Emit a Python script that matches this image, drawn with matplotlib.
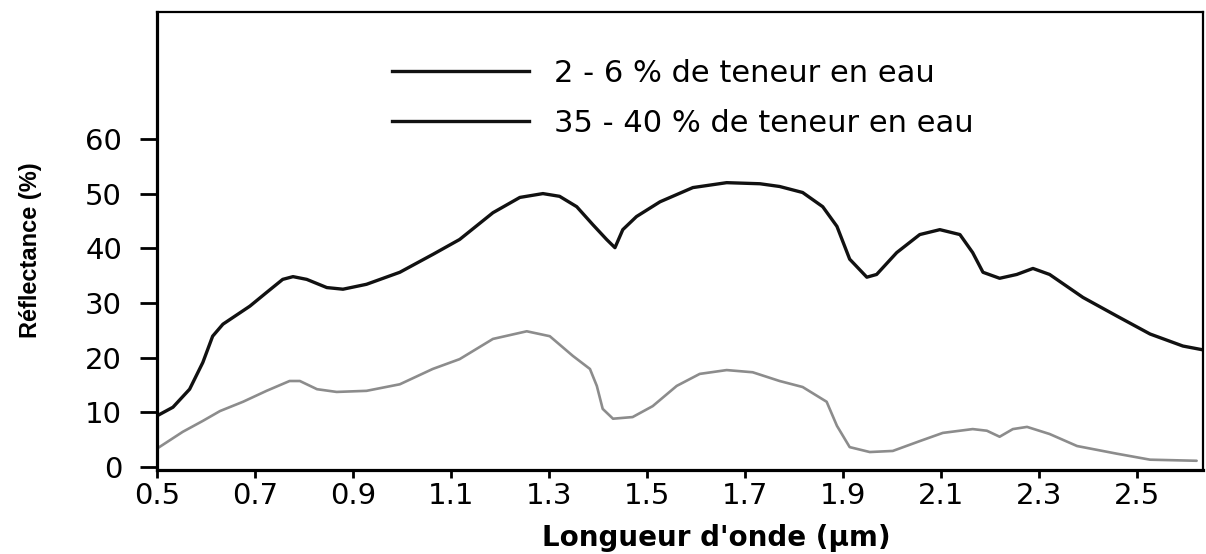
import matplotlib
matplotlib.use("Agg")
import matplotlib.pyplot as plt
from matplotlib.lines import Line2D

plt.rcParams['font.family'] = ['DejaVu Sans']

# reflectance spectra
wl_dry = [0.50, 0.533, 0.567, 0.594, 0.614, 0.635, 0.69, 0.724, 0.757, 0.778,
          0.806, 0.847, 0.88, 0.928, 0.996, 1.064, 1.118, 1.186, 1.241, 1.288,
          1.322, 1.357, 1.39, 1.418, 1.435, 1.451, 1.479, 1.527, 1.594, 1.663,
          1.731, 1.771, 1.818, 1.859, 1.888, 1.914, 1.949, 1.969, 2.01, 2.057,
          2.098, 2.139, 2.165, 2.186, 2.22, 2.255, 2.288, 2.322, 2.39, 2.459,
          2.527, 2.594, 2.635]
refl_dry = [9.3, 10.9, 14.2, 19.1, 23.9, 26.1, 29.4, 31.9, 34.3, 34.8,
            34.3, 32.8, 32.5, 33.4, 35.6, 38.9, 41.6, 46.5, 49.3, 50.0,
            49.5, 47.6, 44.3, 41.6, 40.1, 43.4, 45.8, 48.5, 51.1, 52.0,
            51.8, 51.3, 50.2, 47.6, 44.0, 38.0, 34.7, 35.2, 39.2, 42.5,
            43.4, 42.5, 39.2, 35.6, 34.5, 35.2, 36.3, 35.2, 31.0, 27.6,
            24.3, 22.1, 21.4]

wl_wet = [0.50, 0.553, 0.594, 0.629, 0.676, 0.724, 0.771, 0.792, 0.827, 0.867,
          0.928, 0.996, 1.063, 1.118, 1.186, 1.255, 1.302, 1.349, 1.384, 1.398,
          1.41, 1.431, 1.471, 1.512, 1.561, 1.608, 1.663, 1.716, 1.771, 1.818,
          1.867, 1.888, 1.914, 1.955, 2.002, 2.057, 2.104, 2.165, 2.194, 2.22,
          2.247, 2.276, 2.322, 2.378, 2.459, 2.527, 2.622]
refl_wet = [3.3, 6.4, 8.4, 10.2, 11.9, 13.9, 15.7, 15.7, 14.2, 13.7,
            13.9, 15.1, 17.9, 19.7, 23.4, 24.8, 23.9, 20.3, 17.9, 14.8,
            10.6, 8.8, 9.1, 11.1, 14.8, 17.0, 17.7, 17.3, 15.7, 14.6,
            11.9, 7.5, 3.6, 2.7, 2.9, 4.7, 6.2, 6.9, 6.6, 5.5,
            6.9, 7.3, 6.0, 3.8, 2.4, 1.3, 1.1]

labels = ['2 - 6 % de teneur en eau', '35 - 40 % de teneur en eau']
xticks = [0.5, 0.7, 0.9, 1.1, 1.3, 1.5, 1.7, 1.9, 2.1, 2.3, 2.5]
yticks = [0, 10, 20, 30, 40, 50, 60]

fig = plt.figure(figsize=(12.06, 5.54), dpi=100)
ax = fig.add_axes([0.130, 0.152, 0.8675, 0.826])

ax.plot(wl_dry, refl_dry, color='#111111', lw=2.4,
        solid_capstyle='round', solid_joinstyle='round')
ax.plot(wl_wet, refl_wet, color='#8c8c8c', lw=1.9,
        solid_capstyle='round', solid_joinstyle='round')

ax.set_xlim(0.5, 2.635)
ax.set_ylim(-0.55, 83.2)
ax.set_xticks(xticks)
ax.set_xticklabels([str(t) for t in xticks])
ax.set_yticks(yticks)

for side in ['left', 'bottom']:
    ax.spines[side].set_linewidth(2.3)
for side in ['top', 'right']:
    ax.spines[side].set_linewidth(1.6)

ax.tick_params(axis='y', direction='out', length=12, width=2, pad=13, labelsize=21)
ax.tick_params(axis='x', direction='out', length=6, width=2, pad=3, labelsize=21)

ax.set_xlabel("Longueur d'onde (µm)", fontsize=20, fontweight='bold', va='center')
ax.xaxis.set_label_coords(0.535, -0.148)
ax.set_ylabel('Réflectance (%)', fontsize=17, fontweight='bold',
              family=['Liberation Sans', 'DejaVu Sans'])
ax.yaxis.set_label_coords(-0.11, 0.48)

# legend handles are both black in the original
handles = [Line2D([], [], color='#111111', lw=2.4),
           Line2D([], [], color='#111111', lw=2.4)]
ax.legend(handles, labels, loc='upper left', bbox_to_anchor=(0.2247, 0.898),
          frameon=False, fontsize=22, handlelength=4.5, handletextpad=0.8,
          labelspacing=0.68, borderpad=0, borderaxespad=0)

plt.savefig('out.png', dpi=100)
plt.close()
